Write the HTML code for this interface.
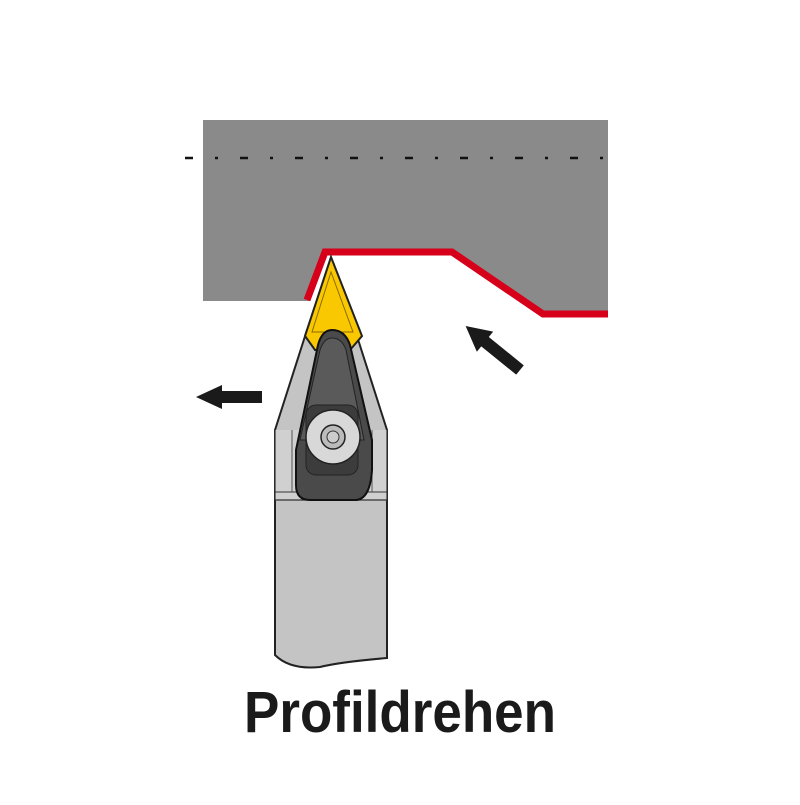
<!DOCTYPE html>
<html><head><style>html,body{margin:0;padding:0;background:#fff}</style></head>
<body>
<svg width="800" height="800" viewBox="0 0 800 800" xmlns="http://www.w3.org/2000/svg">
<rect width="800" height="800" fill="#fff"/>
<!-- workpiece -->
<polygon points="203,120 608,120 608,314 543,314 452,252 325,252 310,301 203,301" fill="#8a8a8a"/>
<line x1="185" y1="158" x2="615" y2="158" stroke="#111" stroke-width="2.5" stroke-dasharray="8,22,3,22"/>
<polyline points="307,300 325,252 452,252 543,314 608,314" fill="none" stroke="#d7001a" stroke-width="7"/>
<!-- holder shank -->
<path d="M275,430 L307,330 L355,330 L387,430 L387,658 Q340,662 320,667 Q290,670 275,655 Z" fill="#c4c4c4" stroke="#222" stroke-width="2"/>
<path d="M275,430 L275,500 L387,500 L387,430" fill="#d0d0d0" stroke="#333" stroke-width="1.2"/>
<line x1="275" y1="492" x2="387" y2="492" stroke="#333" stroke-width="1"/>
<line x1="292" y1="430" x2="292" y2="492" stroke="#555" stroke-width="1"/>
<line x1="372" y1="430" x2="372" y2="492" stroke="#555" stroke-width="1"/>
<!-- insert -->
<polygon points="331,257 362,336 350,350 315,350 305,336" fill="#f9c800" stroke="#222" stroke-width="2"/>
<polygon points="331,272 353,332 312,332" fill="none" stroke="#8a6a00" stroke-width="1"/>
<!-- clamp -->
<path d="M332,330 Q345,330 350,345 L372,440 L372,470 Q370,500 355,500 L310,500 Q296,500 296,485 L296,450 L318,345 Q322,330 332,330 Z" fill="#4a4a4a" stroke="#111" stroke-width="2"/>
<path d="M332,338 Q342,338 346,350 L364,440 L300,440 L320,350 Q324,338 332,338 Z" fill="#5a5a5a" stroke="#222" stroke-width="1"/>
<rect x="306" y="405" width="52" height="70" rx="10" fill="#3c3c3c" stroke="#222"/>
<circle cx="333" cy="437" r="27" fill="#d8d8d8" stroke="#222" stroke-width="1.5"/>
<circle cx="333" cy="437" r="12" fill="#bbb" stroke="#222" stroke-width="1.5"/>
<circle cx="333" cy="437" r="6" fill="#ccc" stroke="#333" stroke-width="1"/>
<!-- arrows -->
<polygon points="196,397 222,385 222,391 262,391 262,403 222,403 222,409" fill="#1a1a1a"/>
<g transform="translate(520,370) rotate(-141)">
<polygon points="0,-6 45,-6 45,-13 70,0 45,13 45,6 0,6" fill="#1a1a1a"/>
</g>
<text x="400" y="732" text-anchor="middle" font-family="Liberation Sans, sans-serif" font-weight="bold" font-size="58" fill="#1a1a1a" textLength="312" lengthAdjust="spacingAndGlyphs">Profildrehen</text>
</svg>
</body></html>
